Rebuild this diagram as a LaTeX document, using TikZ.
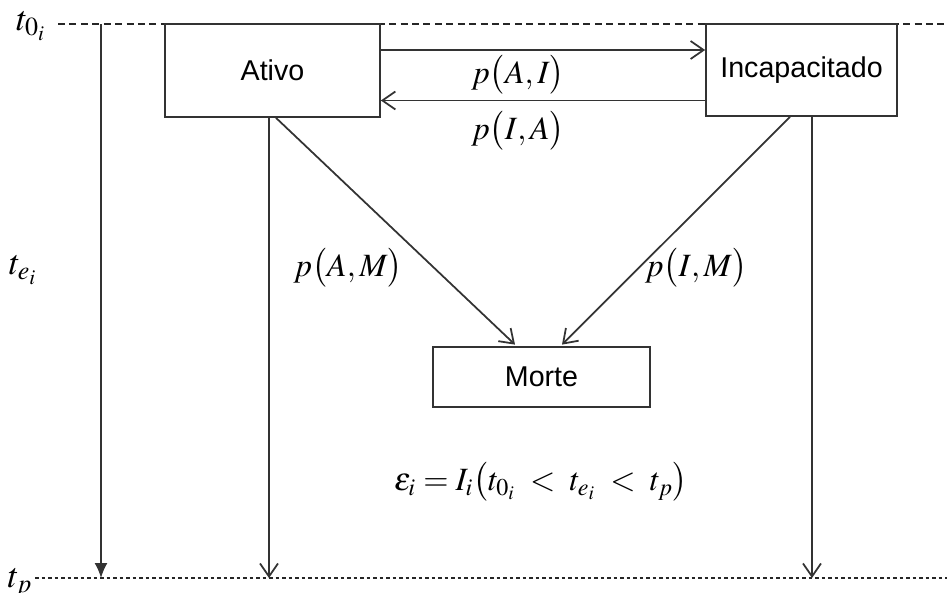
\documentclass[tikz,border=0pt]{standalone}
\usepackage{mathptmx}
\usepackage{fontspec}
\setmainfont{Liberation Sans}
\usetikzlibrary{arrows.meta}
\begin{document}
\begin{tikzpicture}[x=0.02cm,y=-0.02cm,
  ink/.style={draw=black!80, line width=1pt},
  statebox/.style={ink, rectangle, inner sep=0pt, font=\fontsize{16.3}{19}\selectfont},
  flow/.style={ink, -{Straight Barb[length=2.6mm,width=3.6mm]}},
  solidflow/.style={ink, -{Latex[length=3mm,width=2.6mm]}},
  lbl/.style={font=\fontsize{18.5}{22}\selectfont, inner sep=0pt},
  tlbl/.style={font=\fontsize{20}{24}\selectfont, inner sep=0pt},
  timeline/.style={draw=black!85, line width=0.9pt}
]
\useasboundingbox (0,0) rectangle (947,592);
% time lines
\coordinate (topL) at (58,24);
\coordinate (topR) at (947,24);
\coordinate (botL) at (35,578);
\coordinate (botR) at (947,578);
\draw[timeline, dash pattern=on 4pt off 2.5pt] (topL) -- (topR);
\draw[timeline, dash pattern=on 2.2pt off 1.5pt] (botL) -- (botR);
% states
\node[statebox, fill=white, minimum width=4.3cm, minimum height=1.86cm] (ativo) at (272.5,70.5) {Ativo};
\node[statebox, fill=white, minimum width=3.82cm, minimum height=1.84cm] (incap) at (801.5,70) {Incapacitado};
\node[statebox, minimum width=4.34cm, minimum height=1.2cm] (morte) at (541.5,377) {Morte};
% end points
\coordinate (s0) at (101,24);
\coordinate (e0) at (101,578);
\coordinate (e1) at (269,578);
\coordinate (e2) at (812,578);
% connectors
\draw[flow] ([yshift=0.41cm]ativo.east) -- ([yshift=0.41cm]ativo.east -| incap.west);
\draw[flow] ([yshift=-0.61cm]incap.west) -- ([yshift=-0.61cm]incap.west -| ativo.east);
\draw[flow] ([xshift=0.07cm]ativo.south) -- ([xshift=-0.53cm,yshift=0.03cm]morte.north);
\draw[flow] ([xshift=-0.23cm]incap.south) -- ([xshift=0.41cm,yshift=0.03cm]morte.north);
\draw[solidflow] (s0) -- (e0);
\draw[flow] (ativo.south -| e1) -- (e1);
\draw[flow] (incap.south -| e2) -- (e2);
% labels
\node[lbl] (lAI) at (518,75) {$p\bigl(A,I\bigr)$};
\node[lbl] (lIA) at (518,131) {$p\bigl(I,A\bigr)$};
\node[lbl] (lAM) at (348,268) {$p\bigl(A,M\bigr)$};
\node[lbl] (lIM) at (696,268) {$p\bigl(I,M\bigr)$};
\node[lbl] (eps) at (541,482) {$\varepsilon_i = I_i\bigl(t_{0_i} \;<\; t_{e_i} \;<\; t_p\bigr)$};
\node[tlbl] (t0) at (31,26) {$t_{0_i}$};
\node[tlbl] (te) at (23,270) {$t_{e_i}$};
\node[tlbl] (tp) at (20,583) {$t_p$};
\end{tikzpicture}
\end{document}
